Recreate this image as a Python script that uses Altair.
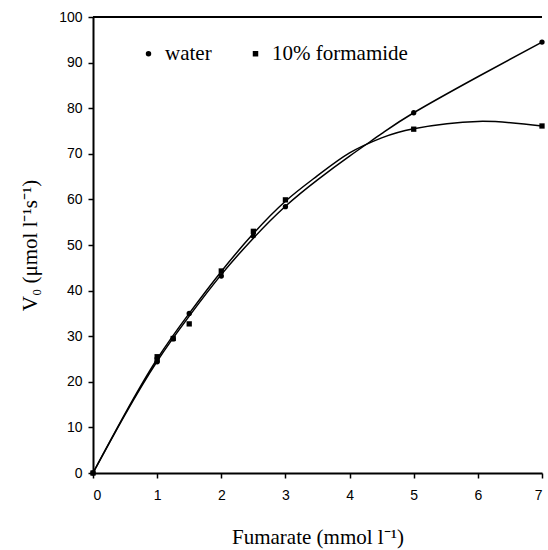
import altair as alt
import pandas as pd

# measured points
x_pts = [0, 1, 1.25, 1.5, 2, 2.5, 3, 5, 7]
water_pts = [0, 24.4, 29.4, 35.0, 43.2, 52.0, 58.4, 79.0, 94.5]
x_pts_f = [0, 1, 1, 1.25, 1.5, 2, 2.5, 3, 5, 7]
form_pts = [0, 25.5, 24.8, 29.5, 32.7, 44.3, 53.0, 59.9, 75.4, 76.1]

# fitted curves
x_curve_w = [0, 0.5, 1, 1.5, 2, 2.5, 3, 3.5, 4, 4.5, 5, 6, 7]
water_curve = [0, 12.8, 24.5, 34.4, 43.5, 51.5, 58.5, 64.3, 69.5, 74.4, 79.0, 86.9, 94.5]
x_curve_f = [0, 0.5, 1, 1.5, 2, 2.5, 3, 3.5, 4, 4.5, 5, 6, 7]
form_curve = [0, 13.0, 25.0, 35.0, 44.2, 52.5, 59.6, 65.2, 70.2, 73.5, 75.5, 77.1, 76.1]

series = ["water", "10% formamide"]

pts = pd.DataFrame(
    {"x": x_pts + x_pts_f,
     "y": water_pts + form_pts,
     "s": ["water"] * len(x_pts) + ["10% formamide"] * len(x_pts_f)}
)
curves = pd.DataFrame(
    {"x": x_curve_w + x_curve_f,
     "y": water_curve + form_curve,
     "s": ["water"] * len(x_curve_w) + ["10% formamide"] * len(x_curve_f)}
)

xs = alt.Scale(domain=[0, 7], nice=False, zero=False)
ys = alt.Scale(domain=[0, 100], nice=False, zero=False)

xaxis = alt.Axis(values=list(range(0, 8)), format="d", title="Fumarate (mmol l\u207b\u00b9)",
                 grid=False, tickSize=5, labelPadding=10, titlePadding=24)
yaxis = alt.Axis(values=list(range(0, 101, 10)), format="d",
                 title="V\u2080 (\u03bcmol l\u207b\u00b9s\u207b\u00b9)",
                 grid=False, tickSize=5, labelPadding=6, titlePadding=18)

lines = alt.Chart(curves).mark_line(color="black", strokeWidth=1.5, interpolate="natural").encode(
    x=alt.X("x:Q", scale=xs, axis=xaxis),
    y=alt.Y("y:Q", scale=ys, axis=yaxis),
    detail="s:N",
)

points = alt.Chart(pts).mark_point(filled=True, opacity=1, color="black").encode(
    x=alt.X("x:Q", scale=xs),
    y=alt.Y("y:Q", scale=ys),
    shape=alt.Shape("s:N", scale=alt.Scale(domain=series, range=["circle", "square"]),
                    legend=alt.Legend(title=None, orient="none", legendX=45, legendY=26,
                                      direction="horizontal", columns=2, columnPadding=33,
                                      symbolSize=30, symbolFillColor="black",
                                      symbolStrokeColor="black",
                                      labelFont="Liberation Serif", labelFontSize=21,
                                      labelColor="black", labelOffset=6)),
    size=alt.value(28),
)

top = alt.Chart(pd.DataFrame({"y": [100]})).mark_rule(color="black", strokeWidth=2).encode(
    y=alt.Y("y:Q", scale=ys)
)

chart = (
    alt.layer(lines, points, top)
    .properties(width=449, height=456, autosize=alt.AutoSizeParams(type="none"),
                padding={"left": 93, "top": 17, "right": 6, "bottom": 77},
                background="white")
    .configure_view(stroke=None)
    .configure_axis(domainColor="black", domainWidth=2, tickColor="black", tickWidth=1.5,
                    labelFont="Liberation Sans", labelFontSize=14, labelColor="black",
                    titleFont="Liberation Serif", titleFontSize=21, titleFontWeight="normal",
                    titleColor="black")
)

chart.save("out.html", embed_options={"renderer": "svg", "actions": False})
